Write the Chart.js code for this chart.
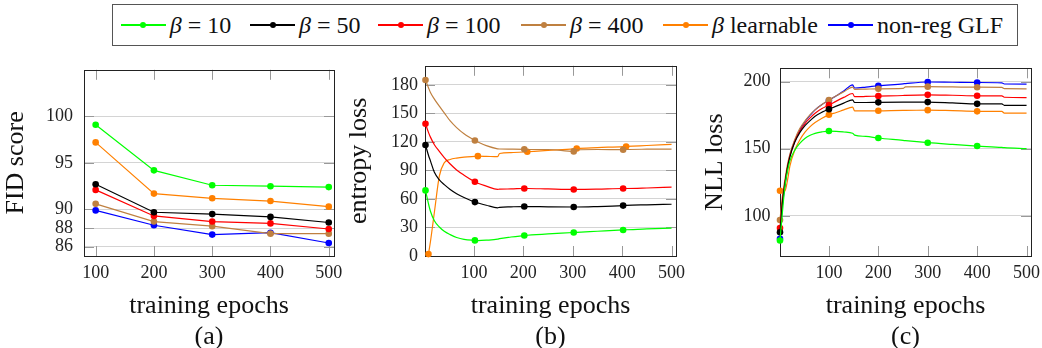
<!DOCTYPE html>
<html>
<head>
<meta charset="utf-8">
<script src="https://cdn.jsdelivr.net/npm/chart.js@4.4.1/dist/chart.umd.min.js"></script>
<style>
body { margin: 0; width: 1042px; height: 348px; overflow: hidden; background: #fff; position: relative; font-family: "Liberation Serif", "Times New Roman", serif; }
canvas { position: absolute; top: 48px; }
#legend { position: absolute; left: 112px; top: 4px; width: 904px; height: 40px; border: 1px solid #555; }
.item { position: absolute; top: 0; height: 40px; display: flex; align-items: center; font-size: 24px; white-space: nowrap; color: #111; }
.sample { position: relative; width: 45px; height: 1.2px; margin-right: 4px; }
.dot { position: absolute; left: 19.5px; top: -2.4px; width: 6px; height: 6px; border-radius: 50%; }
</style>
</head>
<body>
<div id="legend"></div>
<canvas id="chartA" width="345" height="305" style="left:0px"></canvas>
<canvas id="chartB" width="344" height="305" style="left:342px"></canvas>
<canvas id="chartC" width="352" height="305" style="left:690px"></canvas>
<script>
const serif = '"Liberation Serif", "Times New Roman", serif';

// series names / colours (legend order)
const names = ['<i>β</i>&nbsp;=&nbsp;10', '<i>β</i>&nbsp;=&nbsp;50', '<i>β</i>&nbsp;=&nbsp;100', '<i>β</i>&nbsp;=&nbsp;400', '<i>β</i> learnable', 'non-reg GLF'];
const colors = ['#00ff00', '#000000', '#ff0000', '#bf8040', '#ff8000', '#0000ff'];
const xTicks = [100, 200, 300, 400, 500];

// (a) FID score
const epochsA = [100, 200, 300, 400, 500];
const fid10 = [99.1, 94.2, 92.6, 92.5, 92.4];
const fid50 = [92.7, 89.7, 89.5, 89.2, 88.6];
const fid100 = [92.1, 89.3, 88.7, 88.5, 87.9];
const fid400 = [90.6, 88.7, 88.2, 87.4, 87.4];
const fidLearn = [97.2, 91.7, 91.2, 90.9, 90.3];
const fidNonReg = [89.9, 88.3, 87.3, 87.5, 86.4];
const fidTicks = [86, 88, 90, 95, 100];

// (b) entropy loss
const epochsB = [2, 8, 12, 20, 30, 40, 52, 65, 80, 102, 108, 125, 148, 152, 175, 202, 208, 250, 302, 308, 350, 402, 408, 450, 500];
const ent10 = [69, 55, 47, 37, 30.5, 26, 22.5, 19.5, 17.5, 16.4, 16.2, 16.6, 17.7, 18.3, 20, 21.5, 21.8, 23.3, 24.7, 24.9, 26, 27.4, 27.6, 28.5, 29.4];
const ent50 = [116.7, 106, 100, 88, 80, 75, 70, 65.5, 61.5, 56.7, 55.8, 53.4, 50.7, 51.2, 51.7, 52, 52, 51.7, 51.5, 51.5, 52, 53, 53.2, 53.8, 54.4];
const ent100 = [139, 130, 125, 117, 110, 103.5, 96.7, 90.5, 85, 78, 76.5, 73.5, 70, 70.3, 70.5, 71, 71, 70.5, 70, 70, 70.3, 71, 71, 71.5, 72.4];
const ent400 = [185, 177, 172, 165, 157.5, 150.5, 142, 135, 128.5, 121.4, 119.8, 116, 112.7, 112.5, 112.4, 112.2, 112, 112, 110, 111.5, 112, 111.8, 112, 112.3, 112.4];
const entLearn = [null, 2, 15, 46, 84, 98, 101.5, 103, 104, 104.8, 105, 104.8, 104.4, 107.8, 108.8, 109.4, 109.6, 111, 112.6, 113, 114, 115, 115.2, 116.2, 117.4];
const marksB = [2, 102, 202, 302, 402];
const marksBLearn = [8, 108, 208, 308, 408];
const entTicks = [0, 30, 60, 90, 120, 150, 180];

// (c) NLL loss
const epochsC = [1, 6, 11, 16, 21, 31, 41, 52, 62, 72, 86, 100, 115, 130, 148, 152, 175, 200, 250, 255, 300, 350, 400, 450, 455, 500];
const nll10 = [81.6, 103, 122, 133, 141, 149, 154, 157.8, 160, 161.5, 162.6, 163.2, 163, 162.5, 161.5, 160.2, 159.2, 158, 156.2, 156, 154.5, 153.2, 152, 151, 150.8, 150.1];
const nll50 = [87.7, 110, 124, 135.5, 144, 155, 162, 167.5, 171, 174.3, 177.3, 179.5, 181.8, 184, 186.5, 184.5, 184.5, 184.6, 184.7, 184.7, 184.8, 184.2, 183.5, 183.4, 182.4, 182.3];
const nll100 = [90.9, 112, 125, 136, 144.5, 155.5, 163, 169, 173, 176.5, 180, 182.5, 185.5, 188.3, 191.2, 188.8, 189, 189.3, 189.7, 189.8, 190.2, 189.9, 189.5, 189.4, 188.4, 188.2];
const nll400 = [96.8, 115, 127, 138, 146, 157, 165, 171, 175.5, 179, 183, 186.3, 189.5, 192.5, 196, 194.3, 194.5, 194.7, 195, 196.2, 196.3, 196.1, 195.9, 195.8, 194.8, 194.7];
const nllLearn = [118.7, 118, 118.5, 126, 137, 149, 156.5, 162.5, 166.5, 169.5, 172.8, 175.3, 177, 179, 181, 178.3, 178.3, 178.3, 178.6, 178.6, 178.8, 178.4, 177.9, 177.8, 176.6, 176.5];
const nllNonReg = [82.8, 108, 122, 135, 145, 156, 164, 170.5, 175, 179, 183, 186, 189.5, 193, 197.7, 195.3, 196, 197, 198.4, 198.6, 199.8, 199.6, 199.4, 199.2, 198.3, 198.2];
const marksC = [1, 100, 200, 300, 400];
const nllTicks = [100, 150, 200];

// legend
const legendX = [7.7, 137, 265, 408, 550, 715];
const legend = document.getElementById('legend');
names.forEach((n, i) => {
    const it = document.createElement('div');
    it.className = 'item';
    it.style.left = legendX[i] + 'px';
    it.innerHTML = '<span class="sample" style="background:' + colors[i] + '"><span class="dot" style="background:' + colors[i] + '"></span></span><span>' + n + '</span>';
    legend.appendChild(it);
});

const frame = {
    id: 'frame',
    beforeDatasetsDraw(chart) {
        const { ctx, chartArea: a, scales } = chart;
        ctx.save();
        ctx.strokeStyle = '#999';
        ctx.lineWidth = 1;
        ctx.beginPath();
        scales.x.ticks.forEach(t => {
            const px = Math.round(scales.x.getPixelForValue(t.value)) + 0.5;
            ctx.moveTo(px, a.top); ctx.lineTo(px, a.top + 10);
            ctx.moveTo(px, a.bottom); ctx.lineTo(px, a.bottom - 10);
        });
        scales.y.ticks.forEach(t => {
            const py = Math.round(scales.y.getPixelForValue(t.value)) + 0.5;
            ctx.moveTo(a.left, py); ctx.lineTo(a.left + 10, py);
            ctx.moveTo(a.right, py); ctx.lineTo(a.right - 10, py);
        });
        ctx.stroke();
        ctx.strokeStyle = '#222';
        ctx.strokeRect(Math.round(a.left) + 0.5, Math.round(a.top) + 0.5, Math.round(a.right - a.left), Math.round(a.bottom - a.top));
        ctx.restore();
    }
};

function series(epochs, vals, i, marks, smooth) {
    return {
        label: names[i],
        data: epochs.map((e, k) => ({ x: e, y: vals[k] })),
        borderColor: colors[i],
        backgroundColor: colors[i],
        borderWidth: 1.2,
        pointRadius: c => (marks.includes(c.raw.x) ? 3.3 : 0),
        pointBorderWidth: 0,
        cubicInterpolationMode: smooth ? 'monotone' : 'default',
        clip: false
    };
}

function makePanel(id, datasets, o) {
    new Chart(document.getElementById(id), {
        type: 'line',
        data: { datasets: datasets },
        plugins: [frame],
        options: {
            responsive: false,
            animation: false,
            devicePixelRatio: 1,
            layout: { padding: { top: 9, right: o.right, bottom: 0, left: 0 } },
            plugins: { legend: { display: false }, tooltip: { enabled: false } },
            scales: {
                x: {
                    type: 'linear',
                    min: o.xmin, max: o.xmax,
                    afterBuildTicks: s => { s.ticks = xTicks.map(v => ({ value: v })); },
                    afterFit: s => { s.height = 97; },
                    grid: { display: false },
                    border: { display: false },
                    ticks: { color: '#222', padding: -2, maxRotation: 0, font: { family: serif, size: 18 } },
                    title: {
                        display: true,
                        text: ['training epochs', o.tag],
                        color: '#111',
                        padding: { top: 0, bottom: 0.5 },
                        font: { family: serif, size: 26, lineHeight: 31 / 26 }
                    }
                },
                y: {
                    min: o.ymin, max: o.ymax,
                    afterBuildTicks: s => { s.ticks = o.yticks.map(v => ({ value: v })); },
                    afterFit: s => { s.width = o.yw; },
                    grid: { color: '#d4d4d4', drawTicks: false },
                    border: { display: false },
                    ticks: { color: '#222', padding: o.tp, font: { family: serif, size: 18 } },
                    title: {
                        display: true,
                        text: o.ytitle,
                        color: '#111',
                        padding: { top: o.titlePad, bottom: 0 },
                        font: { family: serif, size: 26, lineHeight: 1.2 }
                    }
                }
            }
        }
    });
}

makePanel('chartA', [
    series(epochsA, fid10, 0, epochsA, false),
    series(epochsA, fid50, 1, epochsA, false),
    series(epochsA, fid100, 2, epochsA, false),
    series(epochsA, fid400, 3, epochsA, false),
    series(epochsA, fidLearn, 4, epochsA, false),
    series(epochsA, fidNonReg, 5, epochsA, false)
], { xmin: 80, xmax: 509, ymin: 85, ymax: 105, yticks: fidTicks, yw: 84, right: 11, tp: 11, titlePad: 1, ytitle: 'FID score', tag: '(a)' });

makePanel('chartB', [
    series(epochsB, ent10, 0, marksB, true),
    series(epochsB, ent50, 1, marksB, true),
    series(epochsB, ent100, 2, marksB, true),
    series(epochsB, ent400, 3, marksB, true),
    series(epochsB, entLearn, 4, marksBLearn, true)
], { xmin: 1, xmax: 509, ymin: 0, ymax: 200, yticks: entTicks, yw: 83, right: 10, tp: 7, titlePad: 1.4, ytitle: 'entropy loss', tag: '(b)' });

makePanel('chartC', [
    series(epochsC, nll10, 0, marksC, true),
    series(epochsC, nll50, 1, marksC, true),
    series(epochsC, nll100, 2, marksC, true),
    series(epochsC, nll400, 3, marksC, true),
    series(epochsC, nllLearn, 4, marksC, true),
    series(epochsC, nllNonReg, 5, marksC, true)
], { xmin: 1, xmax: 509, ymin: 70, ymax: 210, yticks: nllTicks, yw: 90, right: 11, tp: 9.5, titlePad: 9.4, ytitle: 'NLL loss', tag: '(c)' });
</script>
</body>
</html>
